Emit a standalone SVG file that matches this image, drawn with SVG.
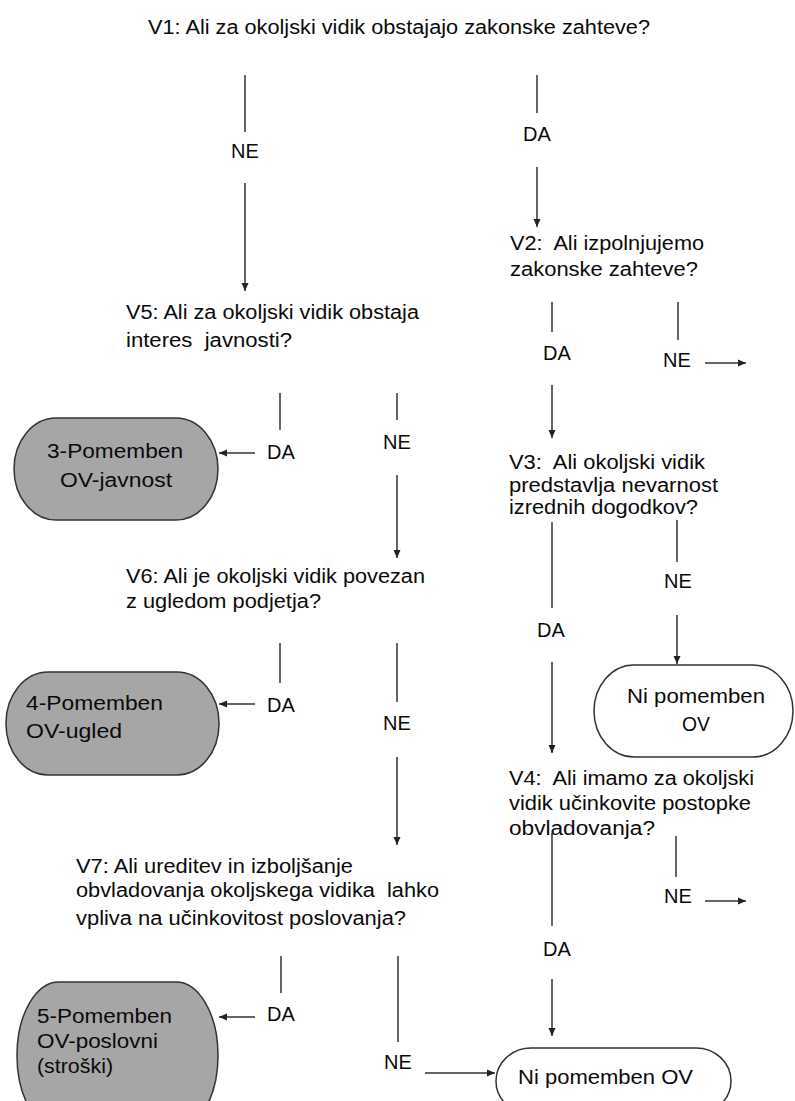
<svg xmlns="http://www.w3.org/2000/svg" width="795" height="1101" viewBox="0 0 795 1101">
<defs>
<marker id="ah" markerWidth="9" markerHeight="8" refX="8" refY="4" orient="auto" markerUnits="userSpaceOnUse">
<path d="M0,0.5 L8,4 L0,7.5 z" fill="#222"/>
</marker>
<style>
.t{font-family:"Liberation Sans",Arial,sans-serif;font-size:20px;fill:#0a0a0a;}
.l{font-family:"Liberation Sans",Arial,sans-serif;font-size:20px;fill:#0a0a0a;text-anchor:middle;}
.c{stroke:#333;stroke-width:1.5;fill:none;}
.a{stroke:#333;stroke-width:1.5;fill:none;marker-end:url(#ah);}
.g{fill:#a6a6a6;stroke:#333;stroke-width:1.5;}
.w{fill:#fff;stroke:#333;stroke-width:1.5;}
</style>
</defs>
<rect width="795" height="1101" fill="#fff"/>

<g id="q1">
<text class="t" x="148" y="34" textLength="502" lengthAdjust="spacingAndGlyphs">V1: Ali za okoljski vidik obstajajo zakonske zahteve?</text>
</g>
<g id="q2">
<text class="t" xml:space="preserve" x="510" y="250" textLength="194" lengthAdjust="spacingAndGlyphs">V2:  Ali izpolnjujemo</text>
<text class="t" x="510" y="276" textLength="188" lengthAdjust="spacingAndGlyphs">zakonske zahteve?</text>
</g>
<g id="q5">
<text class="t" x="126" y="319" textLength="293" lengthAdjust="spacingAndGlyphs">V5: Ali za okoljski vidik obstaja</text>
<text class="t" xml:space="preserve" x="126" y="347" textLength="166" lengthAdjust="spacingAndGlyphs">interes  javnosti?</text>
</g>
<g id="q3">
<text class="t" xml:space="preserve" x="509" y="469" textLength="196" lengthAdjust="spacingAndGlyphs">V3:  Ali okoljski vidik</text>
<text class="t" x="509" y="492" textLength="209" lengthAdjust="spacingAndGlyphs">predstavlja nevarnost</text>
<text class="t" x="509" y="514" textLength="189" lengthAdjust="spacingAndGlyphs">izrednih dogodkov?</text>
</g>
<g id="q6">
<text class="t" x="126" y="583" textLength="299" lengthAdjust="spacingAndGlyphs">V6: Ali je okoljski vidik povezan</text>
<text class="t" x="126" y="608" textLength="195" lengthAdjust="spacingAndGlyphs">z ugledom podjetja?</text>
</g>
<g id="q4">
<text class="t" xml:space="preserve" x="509" y="785" textLength="245" lengthAdjust="spacingAndGlyphs">V4:  Ali imamo za okoljski</text>
<text class="t" x="509" y="810" textLength="242" lengthAdjust="spacingAndGlyphs">vidik učinkovite postopke</text>
<text class="t" x="509" y="835" textLength="146" lengthAdjust="spacingAndGlyphs">obvladovanja?</text>
</g>
<g id="q7">
<text class="t" x="76" y="873" textLength="277" lengthAdjust="spacingAndGlyphs">V7: Ali ureditev in izboljšanje</text>
<text class="t" xml:space="preserve" x="76" y="897" textLength="363" lengthAdjust="spacingAndGlyphs">obvladovanja okoljskega vidika  lahko</text>
<text class="t" x="76" y="925" textLength="330" lengthAdjust="spacingAndGlyphs">vpliva na učinkovitost poslovanja?</text>
</g>

<g id="r3">
<rect class="g" x="14" y="418" width="204" height="102" rx="42" ry="51"/>
<text class="t" x="47" y="458" textLength="136" lengthAdjust="spacingAndGlyphs">3-Pomemben</text>
<text class="t" x="60" y="487" textLength="112" lengthAdjust="spacingAndGlyphs">OV-javnost</text>
</g>
<g id="r4">
<rect class="g" x="6" y="672" width="213" height="103" rx="42" ry="51"/>
<text class="t" x="26" y="710" textLength="137" lengthAdjust="spacingAndGlyphs">4-Pomemben</text>
<text class="t" x="26" y="738" textLength="96" lengthAdjust="spacingAndGlyphs">OV-ugled</text>
</g>
<g id="r5">
<rect class="g" x="17" y="982" width="201" height="147" rx="42" ry="73"/>
<text class="t" x="37" y="1023" textLength="135" lengthAdjust="spacingAndGlyphs">5-Pomemben</text>
<text class="t" x="37" y="1048" textLength="121" lengthAdjust="spacingAndGlyphs">OV-poslovni</text>
<text class="t" x="37" y="1073" textLength="76" lengthAdjust="spacingAndGlyphs">(stroški)</text>
</g>
<g id="n1">
<rect class="w" x="594" y="665" width="199" height="92" rx="40" ry="46"/>
<text class="t" x="627" y="703" textLength="138" lengthAdjust="spacingAndGlyphs">Ni pomemben</text>
<text class="t" x="682" y="731" textLength="28" lengthAdjust="spacingAndGlyphs">OV</text>
</g>
<g id="n2">
<rect class="w" x="496" y="1048" width="235" height="66" rx="35" ry="33"/>
<text class="t" x="518" y="1084" textLength="175" lengthAdjust="spacingAndGlyphs">Ni pomemben OV</text>
</g>

<g id="connectors">
<line class="c" x1="245" y1="75" x2="245" y2="132"/>
<text class="l" x="245" y="158">NE</text>
<line class="a" x1="245" y1="183" x2="245" y2="291"/>

<line class="c" x1="537" y1="75" x2="537" y2="113"/>
<text class="l" x="537" y="141">DA</text>
<line class="a" x1="537" y1="167" x2="537" y2="227"/>

<line class="c" x1="552" y1="302" x2="552" y2="332"/>
<text class="l" x="557" y="360">DA</text>
<line class="a" x1="552" y1="385" x2="552" y2="438"/>

<line class="c" x1="678" y1="302" x2="678" y2="340"/>
<text class="l" x="677" y="367">NE</text>
<line class="a" x1="705" y1="363" x2="746" y2="363"/>

<line class="c" x1="280" y1="393" x2="280" y2="430"/>
<text class="l" x="281" y="459">DA</text>
<line class="a" x1="255" y1="453" x2="219" y2="453"/>

<line class="c" x1="397" y1="393" x2="397" y2="420"/>
<text class="l" x="397" y="449">NE</text>
<line class="a" x1="397" y1="475" x2="397" y2="558"/>

<line class="c" x1="552" y1="522" x2="552" y2="608"/>
<text class="l" x="551" y="637">DA</text>
<line class="a" x1="552" y1="662" x2="552" y2="753"/>

<line class="c" x1="677" y1="520" x2="677" y2="562"/>
<text class="l" x="678" y="588">NE</text>
<line class="a" x1="677" y1="615" x2="677" y2="664"/>

<line class="c" x1="280" y1="643" x2="280" y2="683"/>
<text class="l" x="281" y="712">DA</text>
<line class="a" x1="255" y1="704" x2="219" y2="704"/>

<line class="c" x1="397" y1="643" x2="397" y2="702"/>
<text class="l" x="397" y="730">NE</text>
<line class="a" x1="397" y1="757" x2="397" y2="845"/>

<line class="c" x1="552" y1="833" x2="552" y2="926"/>
<text class="l" x="557" y="956">DA</text>
<line class="a" x1="552" y1="979" x2="552" y2="1036"/>

<line class="c" x1="676" y1="836" x2="676" y2="877"/>
<text class="l" x="678" y="903">NE</text>
<line class="a" x1="705" y1="901" x2="746" y2="901"/>

<line class="c" x1="281" y1="956" x2="281" y2="993"/>
<text class="l" x="281" y="1021">DA</text>
<line class="a" x1="255" y1="1017" x2="219" y2="1017"/>

<line class="c" x1="398" y1="956" x2="398" y2="1042"/>
<text class="l" x="398" y="1069">NE</text>
<line class="a" x1="425" y1="1073" x2="495" y2="1073"/>
</g>
</svg>
